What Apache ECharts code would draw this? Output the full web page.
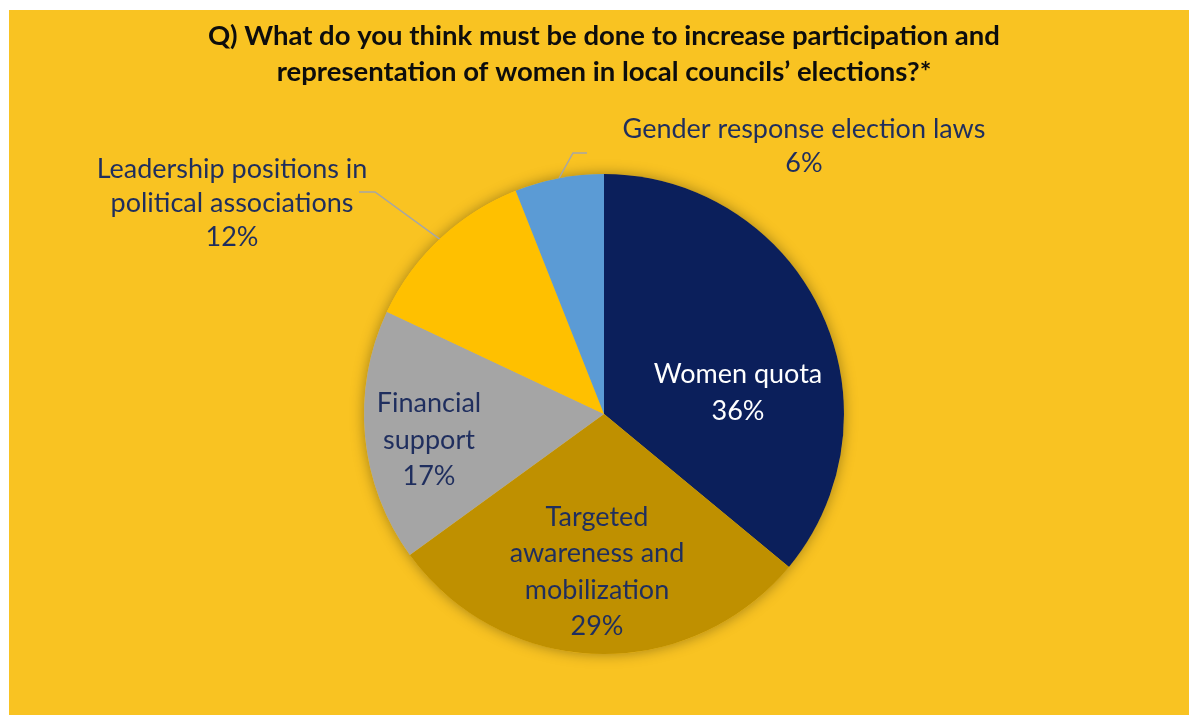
<!DOCTYPE html>
<html>
<head>
<meta charset="utf-8">
<script src="https://cdn.jsdelivr.net/npm/echarts@6/dist/echarts.min.js"></script>
<style>
  html, body { margin: 0; padding: 0; background: #ffffff; }
  #chart { position: absolute; left: 9px; top: 10px; width: 1180px; height: 705px; }
</style>
</head>
<body>
<div id="chart"></div>
<script>
// Survey answers, clockwise from 12 o'clock
const categories = [
  'Women quota',
  'Targeted\nawareness and\nmobilization',
  'Financial\nsupport',
  'Leadership positions in\npolitical associations',
  'Gender response election laws'
];
const shares = [36, 29, 17, 12, 6];
const sliceColors = ['#0B1F5B', '#BF9000', '#A5A5A5', '#FFC000', '#5B9BD5'];
const labelColors = ['#FFFFFF', '#1F2E5E', '#1F2E5E', '#1F2E5E', '#1F2E5E'];
const titleLines = [
  'Q) What do you think must be done to increase participation and',
  'representation of women in local councils\u2019 elections?*'
];

// Label anchor points (chart pixels) and leader-line bends for the outer labels
const labelSpots = [
  { x: 729, y: 383 },
  { x: 588, y: 562 },
  { x: 420, y: 430 },
  { x: 223, y: 193, bend: [366, 182], end: [350, 182] },
  { x: 795, y: 136, bend: [564, 143], end: [578, 143] }
];
const outside = [false, false, false, true, true];

const chart = echarts.init(document.getElementById('chart'), null, { renderer: 'canvas' });

const FONT = 'Lato, "Open Sans", sans-serif';
const center = [595, 404];
const radius = 240;

const data = categories.map((name, i) => ({
  name: name,
  value: shares[i],
  itemStyle: { color: sliceColors[i] },
  label: {
    position: outside[i] ? 'outside' : 'inside',
    color: labelColors[i],
    lineHeight: outside[i] ? 34 : 36.5
  },
  labelLine: { show: outside[i] }
}));

chart.setOption({
  backgroundColor: '#F9C322',
  animation: false,
  title: {
    text: titleLines.join('\n'),
    left: 590,
    top: 3,
    textAlign: 'center',
    textStyle: {
      fontFamily: FONT,
      fontWeight: 'bold',
      fontSize: 27.5,
      lineHeight: 36,
      color: '#0D0D0D'
    }
  },
  series: [
    {
      // soft halo under the pie
      type: 'pie',
      silent: true,
      center: center,
      radius: radius,
      label: { show: false },
      labelLine: { show: false },
      itemStyle: {
        color: '#F9C322',
        shadowBlur: 14,
        shadowColor: 'rgba(0,0,0,0.35)'
      },
      data: [{ value: 1, name: '' }],
      z: 1
    },
    {
      type: 'pie',
      center: center,
      radius: radius,
      startAngle: 90,
      clockwise: true,
      z: 2,
      label: {
        show: true,
        fontFamily: FONT,
        fontSize: 27,
        align: 'center',
        formatter: p => p.name + '\n' + p.value + '%'
      },
      labelLine: {
        lineStyle: { color: '#A6A6A6', width: 1.5 }
      },
      labelLayout: function (params) {
        const s = labelSpots[params.dataIndex];
        const out = {
          x: s.x,
          y: s.y,
          align: 'center',
          verticalAlign: 'middle'
        };
        if (s.bend && params.labelLinePoints) {
          const p0 = params.labelLinePoints[0];
          out.labelLinePoints = [p0, s.bend, s.end];
        }
        return out;
      },
      data: data
    }
  ]
});
</script>
</body>
</html>
